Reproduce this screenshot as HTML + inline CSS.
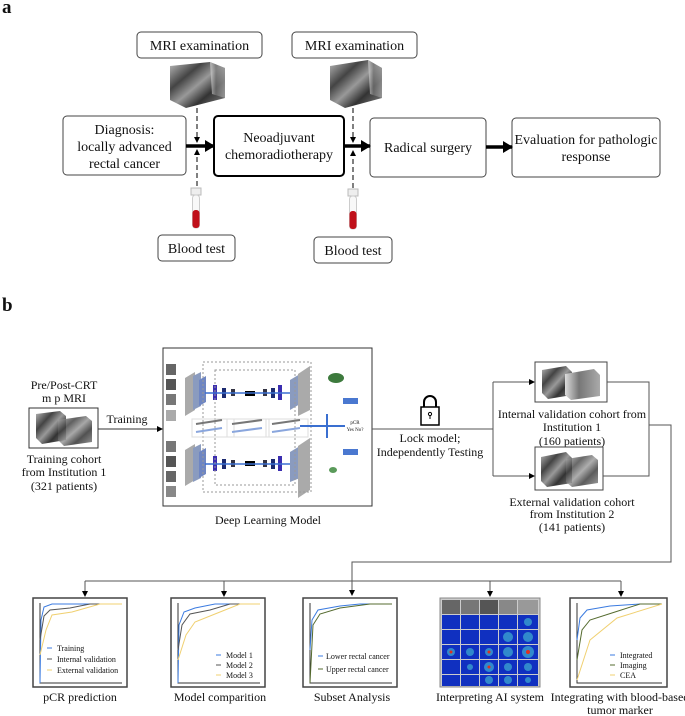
<!DOCTYPE html>
<html><head><meta charset="utf-8"><style>
html,body{margin:0;padding:0;background:#fff}
svg{display:block}
text{font-family:"Liberation Serif",serif;fill:#111}
</style></head><body>
<svg width="685" height="716" viewBox="0 0 685 716" xmlns="http://www.w3.org/2000/svg">
<defs>
<marker id="ahs" markerWidth="6" markerHeight="6" refX="5" refY="3" orient="auto" markerUnits="userSpaceOnUse"><path d="M0,0 L6,3 L0,6 z" fill="#000"/></marker>
<marker id="ahb" markerWidth="10" markerHeight="12" refX="9" refY="6" orient="auto" markerUnits="userSpaceOnUse"><path d="M0,0 L10,6 L0,12 z" fill="#000"/></marker>
<linearGradient id="mri" x1="0" y1="0" x2="1" y2="1"><stop offset="0" stop-color="#bbb"/><stop offset=".3" stop-color="#444"/><stop offset=".5" stop-color="#999"/><stop offset=".7" stop-color="#333"/><stop offset="1" stop-color="#888"/></linearGradient>
<linearGradient id="mri2" x1="0" y1="0" x2="1" y2="0"><stop offset="0" stop-color="#ddd"/><stop offset=".4" stop-color="#777"/><stop offset="1" stop-color="#aaa"/></linearGradient>
</defs>

<text x="2" y="13" font-size="19" font-weight="bold">a</text>

<rect x="137" y="32" width="125" height="26" rx="4" fill="#fff" stroke="#444"/>
<text x="199.5" y="50" font-size="14" text-anchor="middle">MRI examination</text>
<rect x="292" y="32" width="125" height="26" rx="4" fill="#fff" stroke="#444"/>
<text x="354.5" y="50" font-size="14" text-anchor="middle">MRI examination</text>

<g>
<polygon points="170,66 210,62 225,68 225,98 186,108 170,100" fill="url(#mri)"/>
<polygon points="210,62 225,68 225,98 212,94" fill="url(#mri2)" opacity=".7"/>
<polygon points="330,66 368,60 382,68 382,98 345,108 330,100" fill="url(#mri)"/>
<polygon points="368,60 382,68 382,98 370,94" fill="url(#mri2)" opacity=".7"/>
</g>

<rect x="63" y="116" width="123" height="59" rx="4" fill="#fff" stroke="#444"/>
<text x="124.5" y="134" font-size="14" text-anchor="middle">Diagnosis:</text>
<text x="124.5" y="151" font-size="14" text-anchor="middle">locally advanced</text>
<text x="124.5" y="168" font-size="14" text-anchor="middle">rectal cancer</text>

<rect x="214" y="116" width="130" height="60" rx="4" fill="#fff" stroke="#000" stroke-width="2"/>
<text x="279" y="142" font-size="14" text-anchor="middle">Neoadjuvant</text>
<text x="279" y="159" font-size="14" text-anchor="middle">chemoradiotherapy</text>

<rect x="370" y="118" width="116" height="59" rx="4" fill="#fff" stroke="#444"/>
<text x="428" y="152" font-size="14" text-anchor="middle">Radical surgery</text>

<rect x="512" y="118" width="148" height="59" rx="4" fill="#fff" stroke="#444"/>
<text x="586" y="144" font-size="14" text-anchor="middle">Evaluation for pathologic</text>
<text x="586" y="161" font-size="14" text-anchor="middle">response</text>

<line x1="186" y1="146" x2="214" y2="146" stroke="#000" stroke-width="3.5" marker-end="url(#ahb)"/>
<line x1="344" y1="146" x2="370" y2="146" stroke="#000" stroke-width="3.5" marker-end="url(#ahb)"/>
<line x1="486" y1="147" x2="512" y2="147" stroke="#000" stroke-width="3.5" marker-end="url(#ahb)"/>

<line x1="197" y1="108" x2="197" y2="142" stroke="#000" stroke-dasharray="5,3" marker-end="url(#ahs)"/>
<line x1="197" y1="186" x2="197" y2="150" stroke="#000" stroke-dasharray="5,3" marker-end="url(#ahs)"/>
<line x1="353" y1="108" x2="353" y2="142" stroke="#000" stroke-dasharray="5,3" marker-end="url(#ahs)"/>
<line x1="353" y1="188" x2="353" y2="151" stroke="#000" stroke-dasharray="5,3" marker-end="url(#ahs)"/>

<g>
<rect x="191" y="188" width="10" height="7" fill="#eee" stroke="#bbb"/>
<rect x="192.5" y="195" width="7" height="33" rx="3" fill="#f8f8f8" stroke="#ccc"/>
<rect x="192.5" y="210" width="7" height="18" rx="3" fill="#c0101a"/>
<rect x="348" y="189" width="10" height="7" fill="#eee" stroke="#bbb"/>
<rect x="349.5" y="196" width="7" height="33" rx="3" fill="#f8f8f8" stroke="#ccc"/>
<rect x="349.5" y="211" width="7" height="18" rx="3" fill="#c0101a"/>
</g>

<rect x="158" y="235" width="77" height="26" rx="4" fill="#fff" stroke="#444"/>
<text x="196.5" y="253" font-size="14" text-anchor="middle">Blood test</text>
<rect x="314" y="237" width="78" height="26" rx="4" fill="#fff" stroke="#444"/>
<text x="353" y="255" font-size="14" text-anchor="middle">Blood test</text>

<text x="2" y="311" font-size="19" font-weight="bold">b</text>

<text x="64" y="389" font-size="12" text-anchor="middle">Pre/Post-CRT</text>
<text x="64" y="402" font-size="12" text-anchor="middle">m p MRI</text>
<rect x="29" y="408" width="69" height="40" fill="#fff" stroke="#333"/>
<polygon points="36,414 60,411 66,416 66,440 42,444 36,438" fill="url(#mri)"/>
<polygon points="58,420 86,416 92,421 92,442 64,446 58,440" fill="url(#mri)" opacity=".85"/>
<text x="64" y="463" font-size="12" text-anchor="middle">Training cohort</text>
<text x="64" y="476" font-size="12" text-anchor="middle">from Institution 1</text>
<text x="64" y="490" font-size="12" text-anchor="middle">(321 patients)</text>
<text x="127" y="423" font-size="12" text-anchor="middle">Training</text>
<line x1="98" y1="429" x2="162" y2="429" stroke="#333" marker-end="url(#ahs)"/>

<rect x="163" y="348" width="209" height="158" fill="#fff" stroke="#333"/>
<g>
<rect x="166" y="364" width="10" height="11" fill="#666"/><rect x="166" y="379" width="10" height="11" fill="#555"/><rect x="166" y="394" width="10" height="11" fill="#777"/><rect x="166" y="410" width="10" height="11" fill="#aaa"/>
<rect x="166" y="441" width="10" height="11" fill="#777"/><rect x="166" y="456" width="10" height="11" fill="#555"/><rect x="166" y="471" width="10" height="11" fill="#666"/><rect x="166" y="486" width="10" height="11" fill="#888"/>
<polygon points="185,378 195,372 195,410 185,416" fill="#aaa"/>
<polygon points="193,376 201,372 201,406 193,410" fill="#8a9bbf"/>
<polygon points="199,380 206,376 206,402 199,406" fill="#6f86c2"/>
<polygon points="185,450 195,444 195,480 185,486" fill="#aaa"/>
<polygon points="193,448 201,444 201,478 193,482" fill="#8a9bbf"/>
<polygon points="199,452 206,448 206,474 199,478" fill="#6f86c2"/>
<rect x="213" y="385" width="4" height="15" fill="#3a2db0"/><rect x="222" y="388" width="4" height="10" fill="#1c2a70"/><rect x="231" y="389" width="4" height="7" fill="#334"/>
<rect x="245" y="391" width="10" height="5" fill="#000"/>
<rect x="263" y="389" width="4" height="7" fill="#334"/><rect x="271" y="388" width="4" height="10" fill="#1c2a70"/><rect x="278" y="385" width="4" height="15" fill="#3a2db0"/>
<line x1="205" y1="393" x2="295" y2="393" stroke="#3a6fd0" stroke-width="1.5"/>
<rect x="213" y="456" width="4" height="15" fill="#3a2db0"/><rect x="222" y="459" width="4" height="10" fill="#1c2a70"/><rect x="231" y="460" width="4" height="7" fill="#334"/>
<rect x="245" y="461" width="10" height="5" fill="#000"/>
<rect x="263" y="460" width="4" height="7" fill="#334"/><rect x="271" y="459" width="4" height="10" fill="#1c2a70"/><rect x="278" y="456" width="4" height="15" fill="#3a2db0"/>
<line x1="205" y1="464" x2="295" y2="464" stroke="#3a6fd0" stroke-width="1.5"/>
<polygon points="290,380 300,374 300,404 290,410" fill="#8a9bbf"/><polygon points="298,374 310,366 310,410 298,416" fill="#aaa"/>
<polygon points="290,452 300,446 300,478 290,482" fill="#8a9bbf"/><polygon points="298,446 310,438 310,490 298,498" fill="#aaa"/>
<rect x="203" y="362" width="108" height="130" fill="none" stroke="#999" stroke-dasharray="2,2"/>
<rect x="215" y="370" width="80" height="115" fill="none" stroke="#999" stroke-dasharray="2,2"/>
<rect x="192" y="419" width="42" height="18" fill="none" stroke="#ddd"/><rect x="227" y="419" width="42" height="18" fill="none" stroke="#ddd"/><rect x="266" y="419" width="42" height="18" fill="none" stroke="#ddd"/>
<line x1="196" y1="424" x2="222" y2="420" stroke="#777" stroke-width="2"/><line x1="196" y1="432" x2="222" y2="428" stroke="#8aa6dd" stroke-width="2"/>
<line x1="232" y1="424" x2="262" y2="420" stroke="#777" stroke-width="2"/><line x1="232" y1="432" x2="262" y2="428" stroke="#8aa6dd" stroke-width="2"/>
<line x1="272" y1="424" x2="300" y2="420" stroke="#777" stroke-width="2"/><line x1="272" y1="432" x2="300" y2="428" stroke="#8aa6dd" stroke-width="2"/>
<line x1="300" y1="426" x2="345" y2="426" stroke="#3a6fd0" stroke-width="2"/>
<line x1="327" y1="414" x2="327" y2="438" stroke="#3a6fd0" stroke-width="2"/>
<ellipse cx="336" cy="378" rx="8" ry="5" fill="#3d7a3d"/>
<ellipse cx="333" cy="470" rx="4" ry="3" fill="#5a9a5a"/>
<rect x="343" y="398" width="15" height="6" fill="#4a78d0"/>
<rect x="343" y="449" width="15" height="6" fill="#4a78d0"/>
<text x="355" y="424" font-size="5" text-anchor="middle">pCR</text>
<text x="355" y="431" font-size="5" text-anchor="middle">Yes No?</text>
</g>
<text x="268" y="524" font-size="12" text-anchor="middle">Deep Learning Model</text>

<line x1="372" y1="429" x2="493" y2="429" stroke="#555"/>
<rect x="421" y="407" width="18" height="18" fill="#fff" stroke="#000" stroke-width="1.5"/>
<path d="M424,407 v-5 a6,6 0 0 1 12,0 v5" fill="none" stroke="#000" stroke-width="2"/>
<circle cx="430" cy="414" r="1.6" fill="none" stroke="#000"/>
<line x1="430" y1="416" x2="430" y2="419" stroke="#000"/>
<text x="430" y="442" font-size="12" text-anchor="middle">Lock model;</text>
<text x="430" y="456" font-size="12" text-anchor="middle">Independently Testing</text>
<line x1="493" y1="382" x2="493" y2="476" stroke="#555"/>
<line x1="493" y1="382" x2="534" y2="382" stroke="#555" marker-end="url(#ahs)"/>
<line x1="493" y1="476" x2="534" y2="476" stroke="#555" marker-end="url(#ahs)"/>

<rect x="535" y="362" width="72" height="40" fill="#fff" stroke="#444"/>
<polygon points="542,370 566,366 572,372 572,395 548,399 542,393" fill="url(#mri)"/>
<polygon points="565,374 594,369 600,375 600,396 571,400 565,395" fill="url(#mri2)"/>
<text x="572" y="418" font-size="12" text-anchor="middle">Internal validation cohort from</text>
<text x="572" y="431" font-size="12" text-anchor="middle">Institution 1</text>
<text x="572" y="445" font-size="12" text-anchor="middle">(160 patients)</text>

<rect x="535" y="447" width="68" height="43" fill="#fff" stroke="#444"/>
<polygon points="541,457 566,452 572,458 572,483 547,487 541,481" fill="url(#mri)"/>
<polygon points="566,459 592,455 598,460 598,483 572,487 566,482" fill="url(#mri)" opacity=".8"/>
<text x="572" y="506" font-size="12" text-anchor="middle">External validation cohort</text>
<text x="572" y="518" font-size="12" text-anchor="middle">from Institution 2</text>
<text x="572" y="531" font-size="12" text-anchor="middle">(141 patients)</text>

<polyline points="607,382 649,382 649,476 603,476" fill="none" stroke="#555"/>
<polyline points="649,425 671,425 671,562 352,562 352,595" fill="none" stroke="#555" marker-end="url(#ahs)"/>
<line x1="85" y1="581" x2="621" y2="581" stroke="#555"/>
<line x1="85" y1="581" x2="85" y2="596" stroke="#555" marker-end="url(#ahs)"/>
<line x1="224" y1="581" x2="224" y2="596" stroke="#555" marker-end="url(#ahs)"/>
<line x1="490" y1="581" x2="490" y2="596" stroke="#555" marker-end="url(#ahs)"/>
<line x1="621" y1="581" x2="621" y2="596" stroke="#555" marker-end="url(#ahs)"/>

<g font-size="8" stroke-width="1">
<rect x="33" y="598" width="94" height="89" fill="#fff" stroke="#444" stroke-width="1.5"/>
<polyline points="40,603 40,683 122,683" fill="none" stroke="#333"/>
<polyline points="40,683 41,620 44,607 52,604 122,604" fill="none" stroke="#3b7be0"/>
<polyline points="40,640 44,616 50,610 70,608 90,604 122,604" fill="none" stroke="#555"/>
<polyline points="40,655 46,630 52,615 72,612 100,604 122,604" fill="none" stroke="#f0d070"/>
<line x1="47" y1="648" x2="52" y2="648" stroke="#3b7be0"/><text x="57" y="651">Training</text>
<line x1="47" y1="659" x2="52" y2="659" stroke="#555"/><text x="57" y="662">Internal validation</text>
<line x1="47" y1="670" x2="52" y2="670" stroke="#f0d070"/><text x="57" y="673">External validation</text>

<rect x="171" y="598" width="94" height="89" fill="#fff" stroke="#444" stroke-width="1.5"/>
<polyline points="178,603 178,683 260,683" fill="none" stroke="#333"/>
<polyline points="178,683 179,625 184,612 195,608 215,604 260,604" fill="none" stroke="#3b7be0"/>
<polyline points="178,650 182,625 190,614 210,610 230,604 260,604" fill="none" stroke="#555"/>
<polyline points="178,660 186,635 195,622 215,614 240,604 260,604" fill="none" stroke="#f0d070"/>
<line x1="216" y1="655" x2="221" y2="655" stroke="#3b7be0"/><text x="226" y="658">Model 1</text>
<line x1="216" y1="665" x2="221" y2="665" stroke="#555"/><text x="226" y="668">Model 2</text>
<line x1="216" y1="675" x2="221" y2="675" stroke="#f0d070"/><text x="226" y="678">Model 3</text>

<rect x="303" y="598" width="94" height="89" fill="#fff" stroke="#444" stroke-width="1.5"/>
<polyline points="310,603 310,683 392,683" fill="none" stroke="#333"/>
<polyline points="310,650 312,620 318,610 340,606 360,604 392,604" fill="none" stroke="#3b7be0"/>
<polyline points="310,683 313,625 320,614 340,608 370,604 392,604" fill="none" stroke="#556b2f"/>
<line x1="318" y1="656" x2="323" y2="656" stroke="#3b7be0"/><text x="326" y="659">Lower rectal cancer</text>
<line x1="318" y1="669" x2="323" y2="669" stroke="#556b2f"/><text x="326" y="672">Upper rectal cancer</text>

<rect x="440" y="598" width="100" height="89" fill="#ccc" stroke="#888"/>
<rect x="442" y="600" width="18" height="14" fill="#666"/><rect x="461" y="600" width="18" height="14" fill="#777"/><rect x="480" y="600" width="18" height="14" fill="#555"/><rect x="499" y="600" width="18" height="14" fill="#888"/><rect x="518" y="600" width="20" height="14" fill="#999"/>
<g fill="#1030c0">
<rect x="442" y="615" width="18" height="14"/><rect x="461" y="615" width="18" height="14"/><rect x="480" y="615" width="18" height="14"/><rect x="499" y="615" width="18" height="14"/><rect x="518" y="615" width="20" height="14"/>
<rect x="442" y="630" width="18" height="14"/><rect x="461" y="630" width="18" height="14"/><rect x="480" y="630" width="18" height="14"/><rect x="499" y="630" width="18" height="14"/><rect x="518" y="630" width="20" height="14"/>
<rect x="442" y="645" width="18" height="14"/><rect x="461" y="645" width="18" height="14"/><rect x="480" y="645" width="18" height="14"/><rect x="499" y="645" width="18" height="14"/><rect x="518" y="645" width="20" height="14"/>
<rect x="442" y="660" width="18" height="14"/><rect x="461" y="660" width="18" height="14"/><rect x="480" y="660" width="18" height="14"/><rect x="499" y="660" width="18" height="14"/><rect x="518" y="660" width="20" height="14"/>
<rect x="442" y="675" width="18" height="11"/><rect x="461" y="675" width="18" height="11"/><rect x="480" y="675" width="18" height="11"/><rect x="499" y="675" width="18" height="11"/><rect x="518" y="675" width="20" height="11"/>
</g>
<g fill="#3aa0d0" opacity=".8">
<circle cx="528" cy="622" r="4"/><circle cx="508" cy="637" r="5"/><circle cx="528" cy="637" r="5"/>
<circle cx="451" cy="652" r="4"/><circle cx="470" cy="652" r="4"/><circle cx="489" cy="652" r="4"/><circle cx="508" cy="652" r="5"/><circle cx="528" cy="652" r="6"/>
<circle cx="470" cy="667" r="3"/><circle cx="489" cy="667" r="5"/><circle cx="508" cy="667" r="4"/><circle cx="528" cy="667" r="4"/>
<circle cx="489" cy="680" r="4"/><circle cx="508" cy="680" r="4"/><circle cx="528" cy="680" r="3"/>
</g>
<g fill="#e03020"><circle cx="451" cy="652" r="1.5"/><circle cx="489" cy="652" r="1.5"/><circle cx="528" cy="652" r="2"/><circle cx="489" cy="667" r="1.5"/></g>

<rect x="570" y="598" width="97" height="89" fill="#fff" stroke="#444" stroke-width="1.5"/>
<polyline points="577,603 577,683 662,683" fill="none" stroke="#333"/>
<polyline points="577,640 580,618 587,610 610,606 640,604 662,604" fill="none" stroke="#3b7be0"/>
<polyline points="577,660 582,630 590,620 615,612 640,604 662,604" fill="none" stroke="#556b2f"/>
<polyline points="577,680 590,640 617,618 662,604" fill="none" stroke="#f0d070"/>
<line x1="610" y1="655" x2="615" y2="655" stroke="#3b7be0"/><text x="620" y="658">Integrated</text>
<line x1="610" y1="665" x2="615" y2="665" stroke="#556b2f"/><text x="620" y="668">Imaging</text>
<line x1="610" y1="675" x2="615" y2="675" stroke="#f0d070"/><text x="620" y="678">CEA</text>
</g>

<g font-size="12" text-anchor="middle">
<text x="80" y="701">pCR prediction</text>
<text x="220" y="701">Model comparition</text>
<text x="352" y="701">Subset Analysis</text>
<text x="490" y="701">Interpreting AI system</text>
<text x="620" y="701">Integrating with blood-based</text>
<text x="620" y="714">tumor marker</text>
</g>
</svg>
</body></html>
